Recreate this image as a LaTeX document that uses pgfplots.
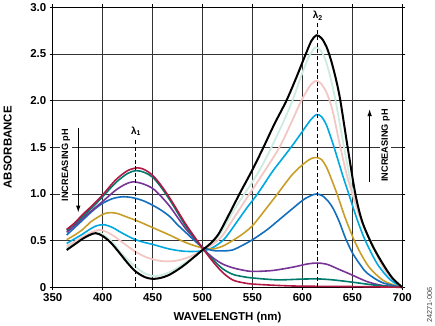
\documentclass[border=0pt]{standalone}
\usepackage{fontspec}
\setmainfont{Liberation Sans}
\usepackage{pgfplots}
\pgfplotsset{compat=1.18}
\usetikzlibrary{arrows.meta}
\definecolor{ccrim}{RGB}{178,24,68}
\definecolor{cteal}{RGB}{0,122,108}
\definecolor{cpurp}{RGB}{118,52,150}
\definecolor{cblue}{RGB}{20,110,190}
\definecolor{cgold}{RGB}{200,158,40}
\definecolor{ccyan}{RGB}{0,168,224}
\definecolor{cpink}{RGB}{243,200,196}
\definecolor{cmint}{RGB}{205,236,224}
\begin{document}
\begin{tikzpicture}
\useasboundingbox (-52.7bp,-38.7bp) rectangle (382.3bp,287.3bp);
\begin{axis}[
  scale only axis, width=349.6bp, height=280bp,
  xmin=350, xmax=700, ymin=0, ymax=3,
  xtick={350,400,450,500,550,600,650,700},
  xticklabels={350,400,450,500,550,600,650,700},
  ytick={0,0.5,1,1.5,2,2.5,3},
  yticklabels={0,0.5,1.0,1.5,2.0,2.5,3.0},
  grid=major, grid style={black!80, line width=0.8bp},
  axis line style={line width=1.3bp},
  tick style={black, line width=0.7bp}, tick align=outside, major tick length=3bp,
  ticklabel style={font=\fontsize{11.5}{13}\selectfont\bfseries},
  /pgf/number format/assume math mode=true,
  xlabel={WAVELENGTH (nm)}, ylabel={ABSORBANCE},
  label style={font=\fontsize{11.5}{13}\selectfont\bfseries},
  xlabel style={at={(axis description cs:0.5,-0.1186)}, anchor=base},
  ylabel style={at={(axis description cs:-0.1173,0.5)}, anchor=base},
  clip=false,
]
% mint
\addplot[cmint, line width=1.8bp, smooth, tension=0.5] coordinates {
(364,0.42)(372,0.48)(380,0.53)(387,0.57)(394,0.59)(400,0.57)(410,0.48)(420,0.35)(433,0.22)(442,0.15)(452,0.12)(462,0.14)(472,0.19)(482,0.26)(492,0.33)(500,0.40)(509,0.47)(518,0.58)(530,0.80)(540,0.97)(550,1.13)(560,1.31)(568,1.48)(580,1.75)(590,2.00)(600,2.30)(607,2.48)(613,2.57)(618,2.54)(623,2.44)(628,2.25)(633,2.01)(641,1.54)(646,1.25)(651,1.00)(660,0.70)(670,0.46)(685,0.17)(700,0)};
% pink
\addplot[cpink, line width=1.8bp, smooth, tension=0.5] coordinates {
(364,0.44)(372,0.49)(380,0.54)(387,0.58)(394,0.61)(400,0.61)(408,0.57)(415,0.52)(425,0.44)(433,0.38)(442,0.33)(450,0.30)(460,0.28)(470,0.28)(480,0.30)(490,0.34)(500,0.40)(510,0.46)(519,0.54)(530,0.72)(547,1.00)(560,1.21)(577,1.50)(590,1.79)(598,1.98)(607,2.15)(613,2.21)(618,2.19)(624,2.09)(630,1.90)(637,1.55)(644,1.22)(650,1.00)(658,0.74)(668,0.50)(680,0.23)(690,0.08)(700,0)};
% cyan
\addplot[ccyan, line width=1.6bp, smooth, tension=0.5] coordinates {
(364,0.47)(372,0.52)(380,0.57)(387,0.62)(394,0.66)(402,0.67)(410,0.64)(418,0.59)(425,0.55)(433,0.51)(442,0.48)(450,0.46)(467,0.41)(483,0.385)(500,0.39)(511,0.43)(522,0.52)(535,0.71)(545,0.86)(555,1.00)(570,1.24)(580,1.38)(590,1.52)(600,1.67)(608,1.79)(614,1.85)(619,1.83)(624,1.74)(628,1.62)(632,1.49)(640,1.21)(647,0.98)(655,0.72)(663,0.50)(675,0.25)(688,0.08)(700,0)};
% gold
\addplot[cgold, line width=1.6bp, smooth, tension=0.5] coordinates {
(364,0.51)(372,0.56)(380,0.62)(388,0.70)(395,0.75)(402,0.79)(408,0.80)(415,0.79)(425,0.75)(435,0.71)(450,0.64)(467,0.56)(483,0.48)(500,0.42)(510,0.41)(520,0.44)(530,0.50)(540,0.57)(550,0.66)(562,0.82)(575,1.00)(590,1.21)(602,1.33)(609,1.38)(614,1.39)(619,1.37)(624,1.29)(629,1.16)(635,0.99)(643,0.74)(652,0.50)(660,0.33)(668,0.20)(680,0.08)(690,0.03)(700,0)};
% blue
\addplot[cblue, line width=1.6bp, smooth, tension=0.5] coordinates {
(364,0.56)(372,0.64)(380,0.72)(390,0.82)(400,0.90)(410,0.95)(420,0.97)(430,0.96)(440,0.93)(450,0.88)(458,0.83)(467,0.76)(475,0.67)(483,0.59)(492,0.50)(500,0.43)(510,0.395)(520,0.39)(530,0.40)(540,0.45)(550,0.51)(565,0.62)(583,0.78)(600,0.93)(608,0.98)(614,1.00)(620,0.98)(626,0.92)(631,0.84)(637,0.70)(643,0.53)(650,0.37)(658,0.24)(665,0.15)(680,0.05)(700,0)};
% purple
\addplot[cpurp, line width=1.6bp, smooth, tension=0.5] coordinates {
(364,0.59)(372,0.66)(380,0.74)(390,0.83)(400,0.92)(413,1.04)(422,1.10)(430,1.13)(440,1.11)(450,1.06)(458,0.98)(467,0.87)(475,0.75)(483,0.63)(492,0.52)(500,0.42)(510,0.32)(520,0.25)(530,0.21)(540,0.185)(550,0.17)(570,0.18)(590,0.215)(605,0.25)(615,0.26)(625,0.245)(637,0.19)(648,0.14)(665,0.06)(680,0.02)(700,0)};
% teal
\addplot[cteal, line width=1.6bp, smooth, tension=0.5] coordinates {
(364,0.61)(372,0.68)(380,0.76)(390,0.86)(400,0.97)(413,1.12)(425,1.22)(434,1.25)(442,1.23)(450,1.18)(458,1.08)(467,0.94)(475,0.80)(483,0.66)(492,0.53)(500,0.42)(510,0.30)(520,0.20)(530,0.14)(540,0.115)(550,0.10)(575,0.08)(600,0.088)(615,0.09)(630,0.08)(650,0.055)(675,0.02)(700,0)};
% crimson
\addplot[ccrim, line width=1.6bp, smooth, tension=0.5] coordinates {
(364,0.62)(372,0.69)(380,0.78)(390,0.88)(400,0.99)(413,1.15)(425,1.25)(435,1.28)(442,1.26)(450,1.20)(458,1.10)(467,0.96)(475,0.82)(483,0.68)(492,0.54)(500,0.42)(510,0.28)(520,0.16)(530,0.08)(540,0.05)(550,0.035)(575,0.02)(600,0.012)(650,0.008)(700,0)};
% black
\addplot[black, line width=2bp, smooth, tension=0.5] coordinates {
(364,0.40)(372,0.46)(380,0.52)(387,0.56)(393,0.58)(400,0.55)(408,0.48)(416,0.38)(425,0.26)(433,0.17)(442,0.11)(450,0.09)(458,0.10)(466,0.13)(474,0.18)(482,0.24)(490,0.31)(500,0.40)(508,0.47)(516,0.57)(526,0.77)(537,1.00)(550,1.26)(561,1.50)(572,1.75)(584,2.00)(594,2.25)(603,2.49)(609,2.64)(614,2.70)(619,2.67)(624,2.58)(629,2.42)(634,2.21)(638,2.00)(645,1.52)(653,1.00)(660,0.70)(670,0.45)(680,0.26)(690,0.10)(700,0)};
% dashed markers
\addplot[black, line width=1.3bp, dash pattern=on 4bp off 2.5bp, sharp plot] coordinates {(433,0)(433,1.58)};
\addplot[black, line width=1.3bp, dash pattern=on 4bp off 2.5bp, sharp plot] coordinates {(615,0)(615,2.83)};
\node[font=\fontsize{10}{12}\selectfont\bfseries] at (axis cs:433.5,1.67) {λ\textsubscript{1}};
\node[font=\fontsize{10}{12}\selectfont\bfseries] at (axis cs:615.5,2.91) {λ\textsubscript{2}};
\draw[-{Latex[length=7bp,width=4.5bp]}, line width=1bp] (axis cs:375.6,1.71) -- (axis cs:375.6,0.80);
\draw[-{Latex[length=7bp,width=4.5bp]}, line width=1bp] (axis cs:667.3,1.13) -- (axis cs:667.3,1.91);
\node[rotate=90, fill=white, inner sep=1.5bp, font=\fontsize{9.2}{10}\selectfont\bfseries] at (axis cs:363.2,1.31) {INCREASING pH};
\node[rotate=90, fill=white, inner sep=1.5bp, font=\fontsize{9.2}{10}\selectfont\bfseries] at (axis cs:683.2,1.52) {INCREASING pH};
\node[rotate=90, font=\fontsize{7.3}{8}\selectfont, text=black!75] at (axis cs:727.3,-0.19) {24271-006};
\end{axis}
\end{tikzpicture}
\end{document}
